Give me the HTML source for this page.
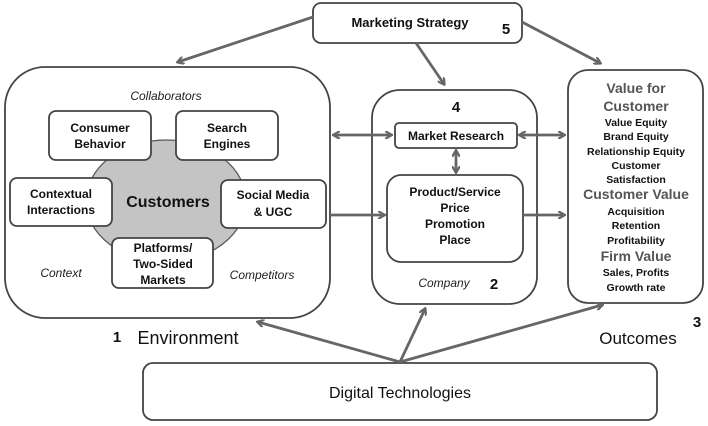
<!DOCTYPE html>
<html><head><meta charset="utf-8"><style>
html,body{margin:0;padding:0;background:#fff}
svg{display:block}
text{font-family:"Liberation Sans",sans-serif;font-weight:bold;fill:#111;text-anchor:middle}
.n{font-weight:normal}
.i{font-style:italic;font-weight:normal;fill:#222}
</style></head><body>
<svg width="708" height="426" viewBox="0 0 708 426" xmlns="http://www.w3.org/2000/svg">
<defs>
<marker id="a" markerWidth="8" markerHeight="8" refX="6" refY="4" orient="auto-start-reverse" markerUnits="userSpaceOnUse">
<path d="M0,0 L7,4 L0,8" fill="none" stroke="#666" stroke-width="2.2"/></marker>
</defs>
<g fill="none" stroke="#444" stroke-width="1.8">
<rect x="313" y="3" width="209" height="40" rx="8" fill="#fff"/>
<rect x="5" y="67" width="325" height="251" rx="40"/>
<rect x="372" y="90" width="165" height="214" rx="28"/>
<rect x="568" y="70" width="135" height="233" rx="20"/>
<rect x="143" y="363" width="514" height="57" rx="10"/>
</g>
<ellipse cx="166" cy="201" rx="80" ry="61" fill="#c4c4c4" stroke="#555" stroke-width="1.2"/>
<g fill="#fff" stroke="#444" stroke-width="1.8">
<rect x="49" y="111" width="102" height="49" rx="7"/>
<rect x="176" y="111" width="102" height="49" rx="7"/>
<rect x="10" y="178" width="102" height="48" rx="7"/>
<rect x="221" y="180" width="105" height="48" rx="7"/>
<rect x="112" y="238" width="101" height="50" rx="7"/>
<rect x="395" y="123" width="122" height="25" rx="4"/>
<rect x="387" y="175" width="136" height="87" rx="14"/>
</g>
<g stroke="#666" stroke-width="2.8" fill="none">
<line x1="313" y1="17" x2="178" y2="62" marker-end="url(#a)"/>
<line x1="416" y1="43" x2="444" y2="84" marker-end="url(#a)"/>
<line x1="522" y1="22" x2="600" y2="63" marker-end="url(#a)"/>
<line x1="334" y1="135" x2="391" y2="135" marker-start="url(#a)" marker-end="url(#a)"/>
<line x1="330" y1="215" x2="384" y2="215" marker-end="url(#a)"/>
<line x1="520" y1="135" x2="564" y2="135" marker-start="url(#a)" marker-end="url(#a)"/>
<line x1="456" y1="151" x2="456" y2="172" marker-start="url(#a)" marker-end="url(#a)"/>
<line x1="523" y1="215" x2="564" y2="215" marker-end="url(#a)"/>
<line x1="400" y1="362" x2="258" y2="322" marker-end="url(#a)"/>
<line x1="400" y1="362" x2="425" y2="309" marker-end="url(#a)"/>
<line x1="400" y1="362" x2="602" y2="305" marker-end="url(#a)"/>
</g>
<text x="410" y="27" font-size="13">Marketing Strategy</text>
<text x="506" y="34" font-size="15">5</text>
<text x="166" y="100" font-size="12" class="i">Collaborators</text>
<text x="100" y="132" font-size="12">Consumer</text><text x="100" y="148" font-size="12">Behavior</text>
<text x="227" y="132" font-size="12">Search</text><text x="227" y="148" font-size="12">Engines</text>
<text x="61" y="198" font-size="12">Contextual</text><text x="61" y="214" font-size="12">Interactions</text>
<text x="168" y="207" font-size="16">Customers</text>
<text x="273" y="199" font-size="12">Social Media</text><text x="273" y="216" font-size="12">&amp; UGC</text>
<text x="163" y="252" font-size="12">Platforms/</text><text x="163" y="268" font-size="12">Two-Sided</text><text x="163" y="284" font-size="12">Markets</text>
<text x="61" y="277" font-size="12" class="i">Context</text>
<text x="262" y="279" font-size="12" class="i">Competitors</text>
<text x="117" y="342" font-size="15">1</text>
<text x="188" y="344" font-size="18" class="n">Environment</text>
<text x="456" y="112" font-size="15">4</text>
<text x="456" y="140" font-size="12">Market Research</text>
<text x="455" y="196" font-size="12">Product/Service</text>
<text x="455" y="212" font-size="12">Price</text>
<text x="455" y="228" font-size="12">Promotion</text>
<text x="455" y="244" font-size="12">Place</text>
<text x="444" y="287" font-size="12" class="i">Company</text>
<text x="494" y="289" font-size="15">2</text>
<g font-size="10.5">
<text x="636" y="93" font-size="14" style="fill:#555">Value for</text>
<text x="636" y="111" font-size="14" style="fill:#555">Customer</text>
<text x="636" y="126">Value Equity</text>
<text x="636" y="140">Brand Equity</text>
<text x="636" y="155">Relationship Equity</text>
<text x="636" y="169">Customer</text>
<text x="636" y="183">Satisfaction</text>
<text x="636" y="199" font-size="14" style="fill:#555">Customer Value</text>
<text x="636" y="215">Acquisition</text>
<text x="636" y="229">Retention</text>
<text x="636" y="244">Profitability</text>
<text x="636" y="261" font-size="14" style="fill:#555">Firm Value</text>
<text x="636" y="276">Sales, Profits</text>
<text x="636" y="291">Growth rate</text>
</g>
<text x="697" y="327" font-size="15">3</text>
<text x="638" y="344" font-size="17" class="n">Outcomes</text>
<text x="400" y="398" font-size="16" class="n">Digital Technologies</text>
</svg>
</body></html>
